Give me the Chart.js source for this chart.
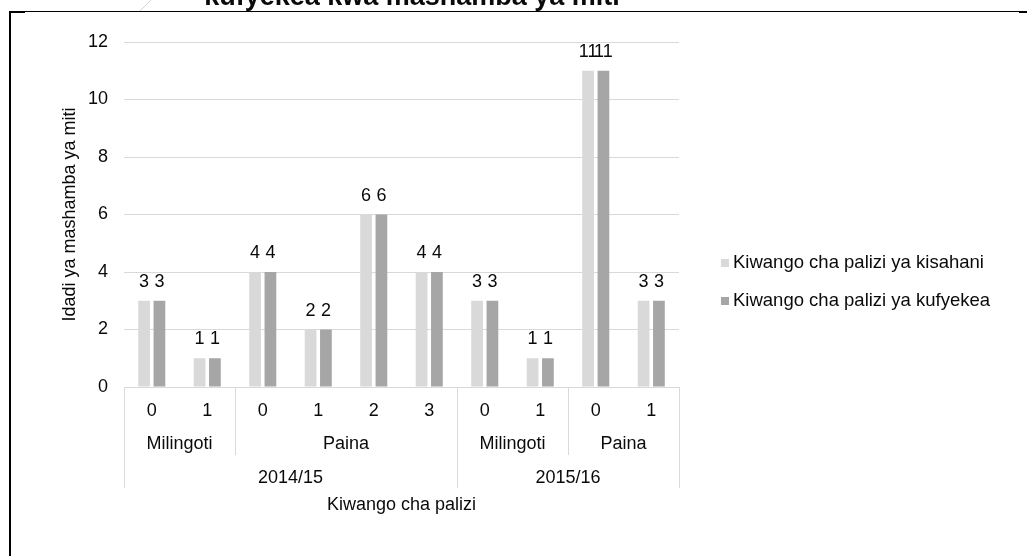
<!DOCTYPE html>
<html>
<head>
<meta charset="utf-8">
<script src="https://cdn.jsdelivr.net/npm/chart.js@4.4.1/dist/chart.umd.min.js"></script>
<style>
  html, body { margin: 0; padding: 0; background: #fff; overflow: hidden; }
  #wrap { position: relative; width: 1027px; height: 556px; }
</style>
</head>
<body>
<div id="wrap"><canvas id="chart"></canvas></div>
<script>
// Sub-category labels (innermost axis row)
const subLabels = ['0', '1', '0', '1', '2', '3', '0', '1', '0', '1'];
// Crop type groups (middle axis row) and how many sub-categories each spans
const cropGroups = ['Milingoti', 'Paina', 'Milingoti', 'Paina'];
const cropSpans = [2, 4, 2, 2];
// Seasons (outer axis row)
const seasons = ['2014/15', '2015/16'];
const seasonSpans = [6, 4];
// Number of tree farms per weeding level
const kisahani = [3, 1, 4, 2, 6, 4, 3, 1, 11, 3];
const kufyekea = [3, 1, 4, 2, 6, 4, 3, 1, 11, 3];
const seriesNames = ['Kiwango cha palizi ya kisahani', 'Kiwango cha palizi ya kufyekea'];
const seriesColors = ['#d9d9d9', '#a6a6a6'];
const yTicks = [0, 2, 4, 6, 8, 10, 12];

const titleText = 'kufyekea kwa mashamba ya miti';
const yTitle = 'Idadi ya mashamba ya miti';
const xTitle = 'Kiwango cha palizi';

const FONT = "'Liberation Sans', Arial, sans-serif";
const TEXT = '#0a0a0a';
const LINE = '#d9d9d9';

const decorations = {
  id: 'decorations',
  afterDraw(chart) {
    const ctx = chart.ctx;
    const xs = chart.scales.x;
    const area = chart.chartArea;
    const n = subLabels.length;
    const step = xs.getPixelForValue(1) - xs.getPixelForValue(0);
    const edge = i => xs.getPixelForValue(0) - step / 2 + i * step;
    const axisY = area.bottom;

    ctx.save();

    // outer frame fragments
    ctx.fillStyle = '#000';
    ctx.fillRect(9, 11, 1010, 1);
    ctx.fillRect(9, 11, 16, 2);
    ctx.fillRect(1019, 11, 8, 2);
    ctx.fillRect(9, 11, 2, 545);
    ctx.strokeStyle = '#d4d4d4';
    ctx.lineWidth = 1;
    ctx.beginPath();
    ctx.moveTo(140, 11);
    ctx.lineTo(152, -1);
    ctx.stroke();

    // title (cropped by the top edge)
    ctx.fillStyle = TEXT;
    ctx.font = 'bold 27px ' + FONT;
    ctx.textAlign = 'center';
    ctx.textBaseline = 'alphabetic';
    ctx.fillText(titleText, 412, 5);

    // multi-level category axis
    ctx.font = '18px ' + FONT;
    ctx.textBaseline = 'middle';
    ctx.fillStyle = TEXT;
    for (let i = 0; i < n; i++) {
      ctx.fillText(subLabels[i], xs.getPixelForValue(i), 411);
    }
    ctx.strokeStyle = LINE;
    ctx.lineWidth = 1;
    let pos = 0;
    cropGroups.forEach((g, k) => {
      const a = edge(pos), b = edge(pos + cropSpans[k]);
      ctx.fillText(g, (a + b) / 2, 444);
      pos += cropSpans[k];
    });
    pos = 0;
    const cropEdges = [0];
    cropSpans.forEach(s => { pos += s; cropEdges.push(pos); });
    const seasonEdges = [0];
    pos = 0;
    seasonSpans.forEach(s => { pos += s; seasonEdges.push(pos); });
    // crop boundaries (short lines)
    cropEdges.forEach(e => {
      if (seasonEdges.includes(e)) return;
      const x = Math.round(edge(e)) + 0.5;
      ctx.beginPath(); ctx.moveTo(x, axisY); ctx.lineTo(x, 455); ctx.stroke();
    });
    // season boundaries (long lines)
    seasonEdges.forEach(e => {
      const x = Math.round(edge(e)) + 0.5;
      ctx.beginPath(); ctx.moveTo(x, axisY); ctx.lineTo(x, 488); ctx.stroke();
    });
    pos = 0;
    seasons.forEach((s, k) => {
      const a = edge(pos), b = edge(pos + seasonSpans[k]);
      ctx.fillText(s, (a + b) / 2, 478);
      pos += seasonSpans[k];
    });
    // x axis title
    ctx.fillText(xTitle, (area.left + area.right) / 2, 505);

    // y axis title
    ctx.save();
    ctx.translate(70, (area.top + area.bottom) / 2);
    ctx.rotate(-Math.PI / 2);
    ctx.fillText(yTitle, 0, 0);
    ctx.restore();

    // value labels above bars
    ctx.font = '18px ' + FONT;
    ctx.textBaseline = 'alphabetic';
    chart.data.datasets.forEach((ds, di) => {
      const meta = chart.getDatasetMeta(di);
      meta.data.forEach((bar, i) => {
        ctx.fillText(String(ds.data[i]), bar.x, bar.y - 14);
      });
    });

    // legend
    ctx.textAlign = 'left';
    ctx.textBaseline = 'middle';
    ctx.font = '18.5px ' + FONT;
    const legendY = [263, 301];
    seriesNames.forEach((name, i) => {
      ctx.fillStyle = seriesColors[i];
      ctx.fillRect(721, legendY[i] - 4, 8, 8);
      ctx.fillStyle = TEXT;
      ctx.fillText(name, 733, legendY[i]);
    });

    ctx.restore();
  }
};

new Chart(document.getElementById('chart'), {
  type: 'bar',
  data: {
    labels: subLabels,
    datasets: [
      { label: seriesNames[0], data: kisahani, backgroundColor: seriesColors[0] },
      { label: seriesNames[1], data: kufyekea, backgroundColor: seriesColors[1] }
    ]
  },
  options: {
    responsive: true,
    maintainAspectRatio: false,
    animation: false,
    devicePixelRatio: 1,
    categoryPercentage: 0.553,
    barPercentage: 0.765,
    layout: { padding: { left: 0, top: 42, right: 348, bottom: 0 } },
    plugins: { legend: { display: false }, tooltip: { enabled: false }, title: { display: false } },
    scales: {
      x: {
        ticks: { display: false },
        grid: { display: false },
        border: { display: true, color: LINE, width: 1 },
        afterFit(scale) { scale.height = 169; }
      },
      y: {
        min: 0,
        max: 12,
        afterBuildTicks(scale) { scale.ticks = yTicks.map(v => ({ value: v })); },
        ticks: { color: TEXT, font: { family: FONT, size: 18 }, padding: 16 },
        grid: { color: LINE, lineWidth: 1, drawTicks: false },
        border: { display: false },
        afterFit(scale) { scale.width = 124; }
      }
    }
  },
  plugins: [decorations]
});
</script>
</body>
</html>
